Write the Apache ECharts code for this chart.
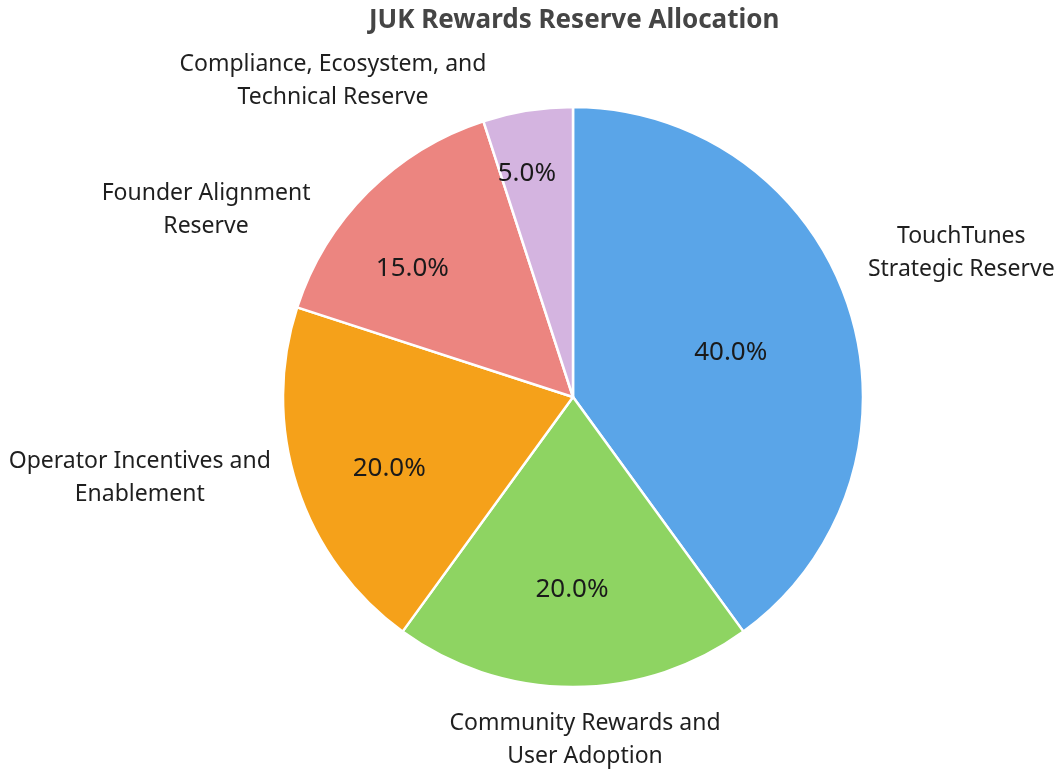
<!DOCTYPE html>
<html style="height: 100%">
<head>
    <meta charset="utf-8">
    <script type="text/javascript" src="https://cdn.jsdelivr.net/npm/echarts@6/dist/echarts.min.js"></script>
</head>
<body style="height: 100%; margin: 0; background: #fff">
    <div id="pieChart" style="height: 773px; width: 1058px;"></div>

    <script type="text/javascript">
        // 数据
        var names = [
            'TouchTunes\nStrategic Reserve',
            'Community Rewards and\nUser Adoption',
            'Operator Incentives and\nEnablement',
            'Founder Alignment\nReserve',
            'Compliance, Ecosystem, and\nTechnical Reserve'
        ];
        var shares = [40, 20, 20, 15, 5];
        var colors = ['#5aa5e8', '#8ed462', '#f5a11a', '#ec8580', '#d4b4e0'];

        // label tweaks (px) so labels sit where the reference has them
        var pctOffsets = [[17, 1], [-1, 45], [-43, 26], [-56, -24], [-23, -77]];
        var nameOffsets = [[5, -20], [12, -60], [-50, -44], [-82, 98], [-177, 82]];

        var chart = echarts.init(document.getElementById('pieChart'));

        var pieData = shares.map(function (v, i) {
            return {
                name: names[i],
                value: v,
                itemStyle: { color: colors[i] },
                label: { offset: pctOffsets[i] }
            };
        });
        var nameData = shares.map(function (v, i) {
            return {
                name: names[i],
                value: v,
                label: { offset: nameOffsets[i] }
            };
        });

        var option = {
            title: {
                text: 'JUK Rewards Reserve Allocation',
                left: 364,
                top: 3,
                textStyle: {
                    fontFamily: 'Noto Sans',
                    fontSize: 26,
                    fontWeight: 'bold',
                    color: '#454545'
                }
            },
            series: [
                {
                    type: 'pie',
                    center: [573, 397],
                    radius: 290,
                    startAngle: 90,
                    clockwise: true,
                    silent: true,
                    data: pieData,
                    itemStyle: {
                        borderColor: '#fff',
                        borderWidth: 2.5
                    },
                    label: {
                        position: 'inside',
                        formatter: function (p) {
                            return p.value.toFixed(1) + '%';
                        },
                        fontFamily: 'Noto Sans',
                        fontSize: 26,
                        color: '#1a1a1a'
                    },
                    labelLine: { show: false }
                },
                {
                    // 外圈名称（透明环）
                    type: 'pie',
                    center: [573, 397],
                    radius: [380, 420],
                    startAngle: 90,
                    clockwise: true,
                    silent: true,
                    data: nameData,
                    itemStyle: { color: 'transparent', borderWidth: 0 },
                    label: {
                        position: 'inside',
                        formatter: '{b}',
                        fontFamily: 'Noto Sans',
                        fontSize: 23,
                        lineHeight: 33,
                        align: 'center',
                        color: '#1f1f1f'
                    },
                    labelLine: { show: false }
                }
            ]
        };

        chart.setOption(option);
    </script>
</body>
</html>
